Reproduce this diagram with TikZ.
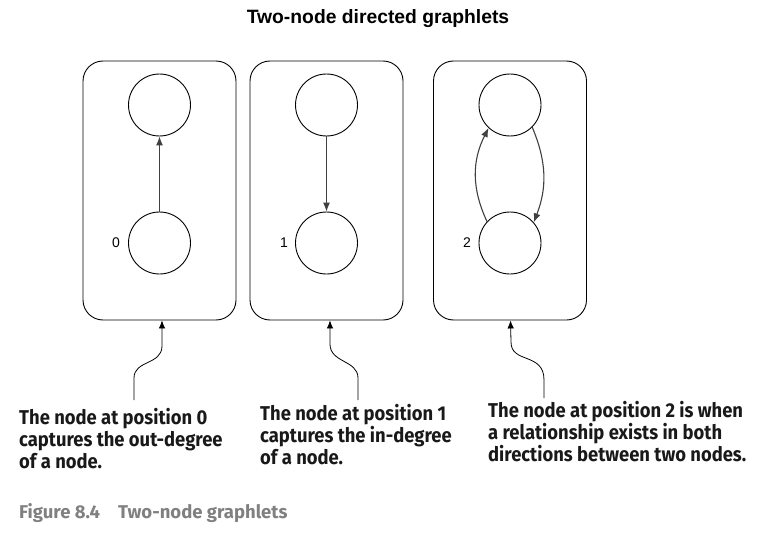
\documentclass[tikz,border=0pt]{standalone}
\usepackage{fontspec}
\setmainfont{Liberation Sans}
\newfontfamily\annfont[FakeStretch=0.92]{Fira Sans}
\newfontfamily\capfont{Fira Sans}
\newfontfamily\titlefont{Liberation Sans}
\usetikzlibrary{arrows.meta}
\begin{document}
\begin{tikzpicture}[x=1pt,y=-1pt,
  frame/.style={draw=black,line width=0.9pt,rounded corners=20pt,minimum width=153pt,minimum height=259pt,inner sep=0pt},
  vert/.style={draw=black,line width=0.9pt,circle,minimum size=62pt,inner sep=0pt},
  edge/.style={draw=black!75,line width=1.1pt,-{Latex[length=9pt,width=7pt]}},
  ptr/.style={draw=black,line width=0.8pt,-{Latex[length=8pt,width=6.5pt]}},
  ann/.style={anchor=north west,inner sep=0pt,align=left,font=\annfont\bfseries\fontsize{20}{22}\selectfont,text=black!90},
  lab/.style={font=\fontsize{14}{16}\selectfont,inner sep=0pt}]
\useasboundingbox (0,0) rectangle (766,535);
\node[font=\titlefont\bfseries\fontsize{19.3}{22}\selectfont,anchor=base] (title) at (378,24) {Two-node directed graphlets};
\node[frame] (box1) at (159.5,190.5) {};
\node[frame] (box2) at (326.5,190.5) {};
\node[frame] (box3) at (510,190.5) {};
\node[vert] (t1) at (159.5,105) {};
\node[vert] (b1) at (159.5,243) {};
\node[vert] (t2) at (326.5,105) {};
\node[vert] (b2) at (326.5,243) {};
\node[vert] (t3) at (510,105) {};
\node[vert] (b3) at (510,243) {};
\node[lab] (l0) at (116,243) {0};
\node[lab] (l1) at (284,243) {1};
\node[lab] (l2) at (467,243) {2};
\draw[edge] (b1) -- (t1);
\draw[edge] (t2) -- (b2);
\draw[edge] (b3.137) to[bend left=26] (t3.227);
\draw[edge] (t3.-45) to[bend left=22] (b3.41);
\node[ann] (a1) at (19,408) {The node at position 0\\captures the out-degree\\of a node.};
\node[ann] (a2) at (260,404) {The node at position 1\\captures the in-degree\\of a node.};
\node[ann] (a3) at (488,401) {The node at position 2 is when\\a relationship exists in both\\directions between two nodes.};
\coordinate (s1) at (134,400);
\coordinate (s2) at (358,400);
\coordinate (s3) at (544,398);
\draw[ptr] (s1) -- (134,378) .. controls (134,360) and (162,365) .. (162,346) -- ([xshift=2.5pt]box1.south);
\draw[ptr] (s2) -- (358,378) .. controls (358,360) and (330,363) .. (330,344) -- ([xshift=3.5pt]box2.south);
\draw[ptr] (s3) -- (544,380) .. controls (544,352) and (511,364) .. (511,342) -- ([xshift=0.5pt]box3.south);
\node[anchor=base west,inner sep=0pt,font=\capfont\bfseries\fontsize{18.5}{21}\selectfont,text=black!50] (cap) at (19,518) {Figure 8.4\hspace{18pt}Two-node graphlets};
\end{tikzpicture}
\end{document}
